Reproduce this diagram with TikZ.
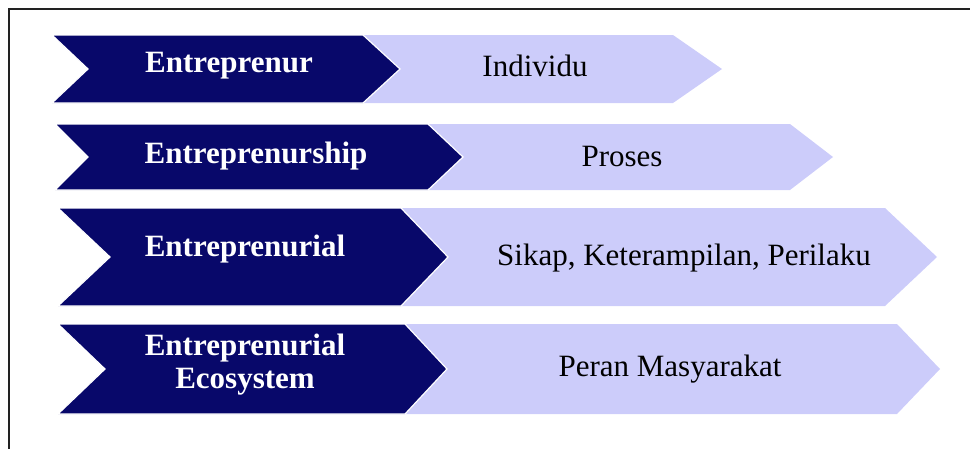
\documentclass[tikz,border=0pt]{standalone}
\usepackage{fontspec}
\setmainfont{Liberation Serif}
\definecolor{navy}{HTML}{08086A}
\definecolor{lav}{HTML}{CCCCFA}
\definecolor{framegray}{HTML}{222222}
\begin{document}
\begin{tikzpicture}[x=1pt,y=-1pt,
  darkchev/.style={fill=navy,draw=white,line width=1.2pt,line join=miter},
  lightchev/.style={fill=lav,draw=none},
  darktext/.style={text=white,font=\fontsize{31}{33}\selectfont\bfseries,align=center,inner sep=0pt},
  lighttext/.style={text=black,font=\fontsize{31}{33}\selectfont,align=center,inner sep=0pt},
  frameline/.style={draw=framegray,line width=2.5pt}]
\useasboundingbox (0,0) rectangle (970,448);
\begin{scope}
\clip (0,0) rectangle (970,448);
\draw[frameline] (9,9) rectangle (990,470);
\end{scope}
% Row 1
\fill[lightchev] (340,35) -- (673,35) -- (722,69) -- (673,103) -- (340,103) -- cycle;
\filldraw[darkchev] (52,35) -- (363,35) -- (400,69) -- (363,103) -- (52,103) -- (88,69) -- cycle;
\node[darktext] (t1) at (229,66) {Entreprenur};
\node[lighttext] (d1) at (535,66) {Individu};
% Row 2
\fill[lightchev] (400,124) -- (790,124) -- (833,157) -- (790,190) -- (400,190) -- cycle;
\filldraw[darkchev] (55,124) -- (428,124) -- (463,157) -- (428,190) -- (55,190) -- (88,157) -- cycle;
\node[darktext] (t2) at (256,156) {Entreprenurship};
\node[lighttext] (d2) at (622,156) {Proses};
% Row 3
\fill[lightchev] (380,208) -- (885,208) -- (937,257) -- (885,306) -- (380,306) -- cycle;
\filldraw[darkchev] (58,208) -- (401,208) -- (448,257) -- (401,306) -- (58,306) -- (110,257) -- cycle;
\node[darktext] (t3) at (245,249) {Entreprenurial};
\node[lighttext] (d3) at (684,258) {Sikap, Keterampilan, Perilaku};
% Row 4
\fill[lightchev] (380,324) -- (897,324) -- (940,369) -- (897,414) -- (380,414) -- cycle;
\filldraw[darkchev] (58,324) -- (405,324) -- (447,369) -- (405,414) -- (58,414) -- (105,369) -- cycle;
\node[darktext] (t4) at (245,365) {Entreprenurial\\Ecosystem};
\node[lighttext] (d4) at (670,369) {Peran Masyarakat};
\end{tikzpicture}
\end{document}
